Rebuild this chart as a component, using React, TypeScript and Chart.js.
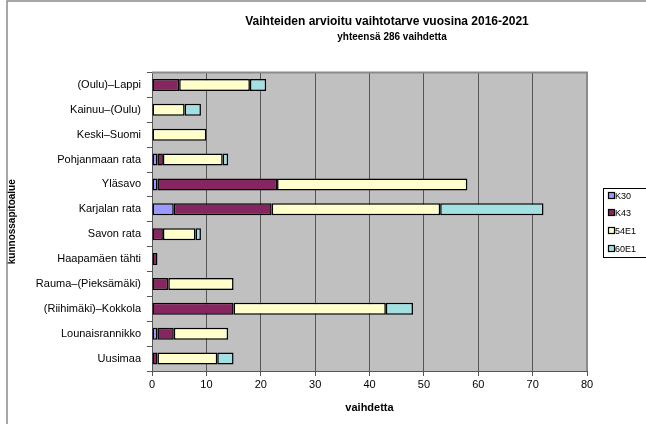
import React, { useEffect, useRef } from "react";
import { Chart, registerables } from "chart.js";

Chart.register(...registerables);

const categories = [
  "(Oulu)–Lappi",
  "Kainuu–(Oulu)",
  "Keski–Suomi",
  "Pohjanmaan rata",
  "Yläsavo",
  "Karjalan rata",
  "Savon rata",
  "Haapamäen tähti",
  "Rauma–(Pieksämäki)",
  "(Riihimäki)–Kokkola",
  "Lounaisrannikko",
  "Uusimaa",
];

const seriesNames = ["K30", "K43", "54E1", "60E1"];
const k30 = [0, 0, 0, 1, 1, 4, 0, 0, 0, 0, 1, 0];
const k43 = [5, 0, 0, 1, 22, 18, 2, 1, 3, 15, 3, 1];
const e54 = [13, 6, 10, 11, 35, 31, 6, 0, 12, 28, 10, 11];
const e60 = [3, 3, 0, 1, 0, 19, 1, 0, 0, 5, 0, 3];
const seriesColors = ["#9999FF", "#852660", "#FFFFCC", "#A3E0E2"];

const xTicks = [0, 10, 20, 30, 40, 50, 60, 70, 80];
const titleText = "Vaihteiden arvioitu vaihtotarve vuosina 2016-2021";
const subtitleText = "yhteensä 286 vaihdetta";
const xTitle = "vaihdetta";
const yTitle = "kunnossapitoalue";

const FONT = "'Liberation Sans', Arial, sans-serif";

const decorPlugin = {
  id: "decor",
  beforeDraw(chart: any) {
    const { ctx, chartArea } = chart;
    ctx.save();
    ctx.fillStyle = "#C0C0C0";
    ctx.fillRect(chartArea.left, chartArea.top, chartArea.right - chartArea.left, chartArea.bottom - chartArea.top);
    ctx.restore();
  },
  afterDraw(chart: any) {
    const { ctx, chartArea } = chart;
    ctx.save();
    // outer frame
    ctx.strokeStyle = "#8a8a8a";
    ctx.lineWidth = 1.5;
    ctx.strokeRect(7, 1, 800, 600);
    // plot top & right border
    ctx.strokeStyle = "#8a8a8a";
    ctx.lineWidth = 2;
    ctx.beginPath();
    ctx.moveTo(chartArea.left, chartArea.top);
    ctx.lineTo(chartArea.right, chartArea.top);
    ctx.lineTo(chartArea.right, chartArea.bottom);
    ctx.stroke();
    // titles
    ctx.fillStyle = "#000";
    ctx.textAlign = "center";
    ctx.textBaseline = "middle";
    ctx.font = `bold 12px ${FONT}`;
    ctx.fillText(titleText, 387, 22);
    ctx.font = `bold 10px ${FONT}`;
    ctx.fillText(subtitleText, 392, 37.5);
    // legend
    const lx = 603, ly = 188, lw = 60, lh = 69;
    ctx.strokeStyle = "#000";
    ctx.lineWidth = 1;
    ctx.strokeRect(lx + 0.5, ly + 0.5, lw, lh);
    ctx.font = `9px ${FONT}`;
    ctx.textAlign = "left";
    const ys = [196, 213, 231, 249];
    chart.data.datasets.forEach((ds: any, i: number) => {
      const y = ys[i];
      ctx.fillStyle = ds.backgroundColor;
      ctx.fillRect(609, y - 3, 5, 5);
      ctx.strokeStyle = "#000";
      ctx.lineWidth = 1.2;
      ctx.strokeRect(608.5, y - 3.5, 6, 6);
      ctx.fillStyle = "#000";
      ctx.fillText(ds.label, 615, y + 0.5);
    });
    ctx.restore();
  },
};

export default function App() {
  const ref = useRef<HTMLCanvasElement | null>(null);
  useEffect(() => {
    if (!ref.current) return;
    const values = [k30, k43, e54, e60];
    const chart = new Chart(ref.current, {
      type: "bar",
      data: {
        labels: categories,
        datasets: seriesNames.map((name, i) => ({
          label: name,
          data: values[i].map((v) => (v === 0 ? null : v)),
          backgroundColor: seriesColors[i],
          borderColor: "#000",
          borderWidth: 1.5,
          borderSkipped: false,
          barPercentage: 1,
          categoryPercentage: 0.48,
        })),
      },
      options: {
        indexAxis: "y",
        animation: false,
        responsive: true,
        maintainAspectRatio: false,
        layout: { padding: { left: 0, top: 72.5, right: 59, bottom: 0 } },
        plugins: {
          legend: { display: false },
          tooltip: { enabled: false },
          title: { display: false },
        },
        scales: {
          x: {
            stacked: true,
            min: 0,
            max: 80,
            afterBuildTicks: (scale: any) => {
              scale.ticks = xTicks.map((v) => ({ value: v }));
            },
            afterFit: (scale: any) => {
              scale.height = 424 - 371;
            },
            grid: {
              color: "#555",
              lineWidth: 1,
              tickColor: "#555",
              tickLength: 5,
            },
            border: { color: "#555", width: 1 },
            ticks: {
              color: "#000",
              font: { family: FONT, size: 11 },
              padding: 2,
              maxRotation: 0,
            },
            title: {
              display: true,
              text: xTitle,
              color: "#000",
              font: { family: FONT, size: 11, weight: "bold" },
              padding: { top: 0, bottom: 9 },
            },
          },
          y: {
            stacked: true,
            afterFit: (scale: any) => {
              scale.width = 152;
            },
            grid: {
              drawOnChartArea: false,
              drawTicks: true,
              tickColor: "#555",
              tickLength: 5,
              offset: true,
            },
            border: { color: "#555", width: 1 },
            ticks: {
              color: "#000",
              font: { family: FONT, size: 11 },
              padding: 6,
              autoSkip: false,
            },
            title: {
              display: true,
              text: yTitle,
              color: "#000",
              font: { family: FONT, size: 10, weight: "bold" },
              padding: { top: 6, bottom: 0 },
            },
          },
        },
      } as any,
      plugins: [decorPlugin],
    });
    return () => chart.destroy();
  }, []);
  return (
    <div style={{ position: "fixed", left: 0, top: 0, width: 646, height: 424, background: "#fff" }}>
      <canvas ref={ref} />
    </div>
  );
}
